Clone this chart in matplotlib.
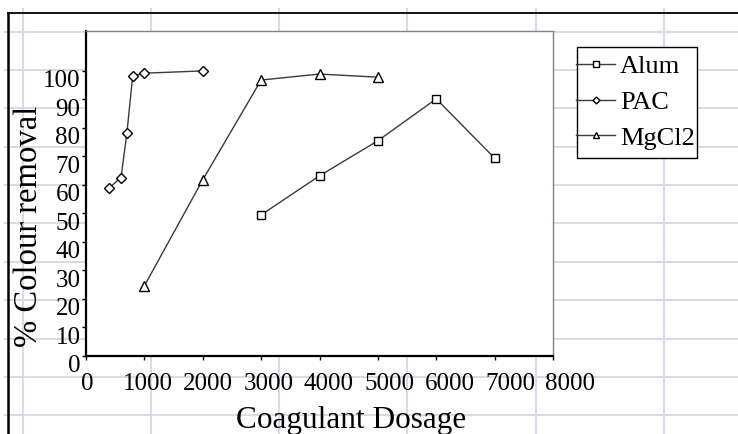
"""
Colour removal vs coagulant dosage for Alum, PAC and MgCl2.

Redraws the Excel chart as it sits on the worksheet, cell grid included.
"""

import numpy as np
import matplotlib
matplotlib.use("Agg")
import matplotlib.pyplot as plt
from matplotlib.patches import Rectangle
from matplotlib.transforms import ScaledTranslation

# ── Data ──────────────────────────────────────────────────────────────────────

alum_dose     = [3000, 4000, 5000, 6000, 7000]
alum_removal  = [49.5, 63.2, 75.5, 90.2, 69.4]

pac_dose      = [400, 600, 700, 800, 1000, 2000]
pac_removal   = [59.0, 62.6, 78.1, 98.2, 99.2, 100.0]

mgcl2_dose    = [1000, 2000, 3000, 4000, 5000]
mgcl2_removal = [24.6, 61.8, 96.8, 98.9, 97.8]

x_ticks = np.arange(0, 8001, 1000)
y_ticks = np.arange(0, 101, 10)

# ── Style ─────────────────────────────────────────────────────────────────────

W, H   = 738, 434          # pixels
DPI    = 100
SHEET  = "#D4DBE8"         # worksheet cell lines
LINE   = "#3a3a3a"
plt.rcParams["font.family"] = ["Liberation Serif", "DejaVu Serif"]

fig = plt.figure(figsize=(W / DPI, H / DPI), dpi=DPI, facecolor="white")

# ── Worksheet behind the chart (pixel coords) ─────────────────────────────────

bg = fig.add_axes([0, 0, 1, 1], zorder=-1)
bg.set_xlim(0, W)
bg.set_ylim(H, 0)
bg.axis("off")
for y in 31.7 + 38.35 * np.arange(11):
    bg.plot([4, W], [y, y], color=SHEET, lw=1.4, solid_capstyle="butt")
for x in 22.7 + 128.2 * np.arange(6):
    bg.plot([x, x], [8, H], color=SHEET, lw=1.4, solid_capstyle="butt")
# chart area border (top and left edges are all that show)
bg.plot([8, W], [13.3, 13.3], color="black", lw=1.3)
bg.plot([8, 8], [13.3, H], color="black", lw=1.8)
# legend box; the entries are laid over it with no frame of their own
bg.add_patch(Rectangle((576.5, 47), 120.5, 110.5, facecolor="white",
                       edgecolor="black", lw=1.0, zorder=5))

# ── Plot area ─────────────────────────────────────────────────────────────────

ax = fig.add_axes([86 / W, 1 - 356 / H, (553 - 86) / W, (356 - 31) / H])
ax.set_facecolor("white")

common = dict(color=LINE, lw=1.0, mec="black", mfc="white", mew=1.0)
ax.plot(alum_dose, alum_removal, marker="s", ms=6, label="Alum", **common)
ax.plot(pac_dose, pac_removal, marker="D", ms=5, label="PAC", **common)
ax.plot(mgcl2_dose, mgcl2_removal, marker="^", ms=7, label="MgCl2", **common)

ax.set_xlim(0, 8000)
ax.set_ylim(0, 114)
ax.set_xticks(x_ticks)
ax.set_yticks(y_ticks)
ax.tick_params(direction="out", length=3, width=1, labelsize=18,
               colors="black", pad=1)
ax.tick_params(axis="x", pad=9)

for side in ("left", "bottom"):
    ax.spines[side].set_linewidth(1.6)
    ax.spines[side].set_color("black")
for side in ("top", "right"):
    ax.spines[side].set_linewidth(1.0)
    ax.spines[side].set_color("#808080")

# Excel lays its labels out a touch off the ticks; nudge to match
for lab in ax.get_yticklabels():
    lab.set_transform(lab.get_transform()
                      + ScaledTranslation(0, -8 / DPI, fig.dpi_scale_trans))
for i, lab in enumerate(ax.get_xticklabels()):
    dx = (1.5 + 2.0 * i) / DPI
    lab.set_transform(lab.get_transform()
                      + ScaledTranslation(dx, 0, fig.dpi_scale_trans))

fig.text(351 / W, 1 - 428 / H, "Coagulant Dosage", fontsize=22.5,
         ha="center", va="baseline")
fig.text(29 / W, 1 - 226 / H, "% Colour removal", fontsize=23.5,
         rotation=90, ha="center", va="center")

leg = ax.legend(loc="upper left", bbox_to_anchor=(576 / W, 1 - 55 / H),
                bbox_transform=fig.transFigure, fontsize=19,
                frameon=False, borderpad=0, borderaxespad=0,
                handlelength=1.48, handletextpad=0.19, labelspacing=0.46,
                markerscale=0.7)

fig.savefig("out.png", dpi=DPI)
